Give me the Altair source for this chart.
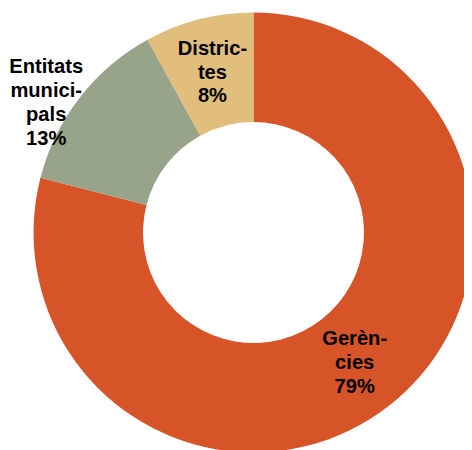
import altair as alt
import pandas as pd

categories = ["Gerències", "Entitats municipals", "Districtes"]
values = [79, 13, 8]
order = [1, 2, 3]
label_lines = ["Gerèn-\ncies\n79%", "Entitats\nmunici-\npals\n13%", "Distric-\ntes\n8%"]
label_inside = [True, False, True]
colors = ["#D65428", "#97A489", "#E2BE7C"]

df = pd.DataFrame({
    "cat": categories,
    "val": values,
    "ord": order,
    "label": label_lines,
    "inside": label_inside,
})

CX, CY = 249.8, 224.6
LH = 24.4
theta_scale = alt.Scale(domain=[0, 100], range=[0, 6.283185307179586])

base = alt.Chart(df).transform_window(
    end="sum(val)", sort=[alt.SortField("ord")], frame=[None, 0]
).transform_calculate(
    start="datum.end - datum.val", mid="datum.end - datum.val / 2"
)

arcs = base.mark_arc(outerRadius=223.8, innerRadius=112.4).encode(
    theta=alt.Theta("start:Q", scale=theta_scale),
    theta2="end:Q",
    color=alt.Color("cat:N", scale=alt.Scale(domain=categories, range=colors), legend=None),
    x=alt.value(CX),
    y=alt.value(CY),
)

text_style = dict(font="Liberation Sans", fontWeight="bold", fontSize=20.5,
                  lineHeight=LH, lineBreak="\n", align="center", baseline="middle",
                  color="black")

inner_labels = base.mark_text(radius=168, dy=-LH, **text_style).encode(
    theta=alt.Theta("mid:Q", scale=theta_scale),
    text="label:N", x=alt.value(CX), y=alt.value(CY),
).transform_filter("datum.inside")

outer_labels = base.mark_text(radius=250, dx=-13.4, dy=-15, **text_style).encode(
    theta=alt.Theta("mid:Q", scale=theta_scale),
    text="label:N", x=alt.value(CX), y=alt.value(CY),
).transform_filter("!datum.inside")

chart = alt.layer(arcs, inner_labels, outer_labels).properties(
    width=464, height=442, autosize=alt.AutoSizeParams(type="none"), padding=0,
).configure_view(stroke=None)

chart.save("out.html", embed_options={"renderer": "svg", "actions": False})
